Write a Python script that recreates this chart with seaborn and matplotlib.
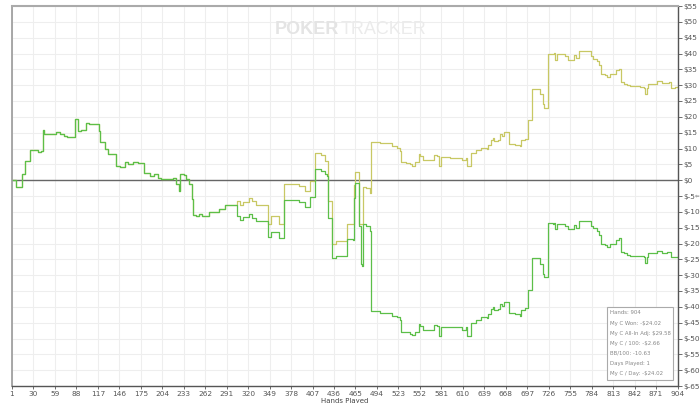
import numpy as np
import pandas as pd
import matplotlib
matplotlib.use("Agg")
import matplotlib.pyplot as plt
import seaborn as sns
from matplotlib.patches import Rectangle

# ---------------- data ----------------
hands = [1, 6, 15, 19, 26, 36, 41, 43, 45, 55, 61, 66, 72, 76, 86, 91, 95, 101, 106, 119,
         121, 127, 131, 142, 147, 154, 158, 165, 172, 180, 188, 194, 199, 203, 219, 224, 227, 229, 235, 237,
         241, 245, 247, 251, 255, 259, 268, 277, 282, 290,
         306, 310, 315, 323, 327, 332, 349, 353, 363, 370, 390, 398, 405, 412, 420, 426, 428, 430, 435, 440,
         456, 464, 465, 467, 472, 474, 476, 477, 481, 487,
         488, 500, 508, 517, 523, 528, 529, 535, 541, 544, 548, 553, 555, 559, 566, 573, 577, 580, 583, 595,
         611, 617, 619, 624, 631, 638, 645, 647, 651, 654, 655, 661, 663, 666, 668, 675, 683, 690, 692, 697,
         701, 706, 713, 717, 721, 722, 723, 728, 735, 737, 738, 740, 748, 751, 756, 761, 764, 766, 770, 785,
         786, 789, 795, 798, 800, 805, 809, 813, 818, 820, 824, 827, 828, 831, 836, 840, 849, 853, 858, 860,
         862, 864, 870, 876, 883, 890, 893, 895, 900, 904]

won = [0.0, -2.1, 1.9, 6.1, 9.5, 9.0, 9.3, 15.8, 14.5, 14.6, 15.3, 14.5, 13.9, 13.7, 19.2, 15.6, 15.8, 17.9, 17.7, 15.6,
       11.9, 9.8, 8.2, 4.5, 4.2, 5.6, 5.0, 5.6, 5.5, 2.4, 1.4, 2.1, 0.8, 0.3, 0.6, -1.3, -3.4, 1.9, 1.7, 0.3,
       -1.3, -6.0, -10.9, -11.2, -10.7, -11.3, -9.9, -10.2, -9.2, -7.8,
       -11.3, -12.6, -11.5, -10.7, -11.8, -12.8, -18.1, -16.5, -18.3, -6.3, -7.0, -8.4, -5.2, 3.5, 3.0, 2.0, 1.4, -11.8, -24.7, -23.9,
       -18.6, -19.0, -5.5, -1.0, -14.4, -26.5, -27.0, -13.9, -14.6, -16.0,
       -41.4, -41.9, -42.0, -42.8, -43.3, -44.3, -47.8, -48.1, -48.5, -49.0, -48.0, -45.4, -45.9, -47.3, -47.3, -45.6, -45.9, -49.1, -46.4, -46.5,
       -47.3, -46.5, -49.2, -45.0, -44.0, -43.3, -43.6, -42.4, -40.8, -40.2, -41.1, -40.8, -39.1, -39.8, -38.4, -42.1, -42.4, -42.9, -41.0, -40.5,
       -34.7, -24.7, -24.7, -26.5, -27.6, -29.6, -30.7, -13.6, -13.8, -13.4, -15.5, -13.8, -13.8, -14.4, -15.5, -15.5, -14.2, -15.0, -12.8, -12.8,
       -14.5, -15.2, -16.0, -17.3, -20.2, -20.5, -21.0, -20.0, -20.0, -18.9, -18.4, -18.7, -22.6, -23.1, -23.6, -23.9, -23.8, -24.1, -24.4, -26.3,
       -24.4, -23.1, -23.1, -22.3, -22.9, -22.8, -22.6, -24.4, -24.2, -24.02]

allin = [0.0, -2.1, 1.9, 6.1, 9.5, 9.0, 9.3, 15.8, 14.5, 14.6, 15.3, 14.5, 13.9, 13.7, 19.2, 15.6, 15.8, 17.9, 17.7, 15.6,
         11.9, 9.8, 8.2, 4.5, 4.2, 5.6, 5.0, 5.6, 5.5, 2.4, 1.4, 2.1, 0.8, 0.3, 0.6, -1.3, -3.4, 1.9, 1.7, 0.3,
         -1.3, -6.0, -10.9, -11.2, -10.7, -11.3, -9.9, -10.2, -9.2, -7.8,
         -6.5, -7.8, -7.0, -5.7, -6.5, -7.8, -13.7, -11.3, -13.7, -1.3, -1.8, -3.4, -0.2, 8.5, 8.0, 6.1, 6.1, -6.5, -20.0, -19.2,
         -13.7, -13.7, -1.5, 2.6, -13.9, -13.9, -13.9, -2.1, -2.5, -3.9,
         12.2, 11.7, 11.6, 10.8, 10.3, 9.3, 5.8, 5.5, 5.1, 4.6, 5.6, 8.2, 7.7, 6.3, 6.3, 8.0, 7.7, 4.5, 7.2, 7.1,
         6.3, 7.1, 4.4, 8.6, 9.6, 10.3, 10.0, 11.2, 12.8, 13.4, 12.5, 12.8, 14.5, 13.8, 15.2, 11.5, 11.2, 10.7, 12.6, 13.1,
         18.9, 28.9, 28.9, 27.1, 26.0, 24.0, 22.9, 40.0, 39.8, 40.2, 38.1, 39.8, 39.8, 39.2, 38.1, 38.1, 39.4, 38.6, 40.8, 40.8,
         39.1, 38.4, 37.6, 36.3, 33.4, 33.1, 32.6, 33.6, 33.6, 34.7, 35.2, 34.9, 31.0, 30.5, 30.0, 29.7, 29.8, 29.5, 29.2, 27.3,
         29.2, 30.5, 30.5, 31.3, 30.7, 30.8, 31.0, 29.2, 29.4, 29.58]

x_tick_labels = ["1", "30", "59", "88", "117", "146", "175", "204", "233", "262", "291", "320", "349", "378",
                 "407", "436", "465", "494", "523", "552", "581", "610", "639", "668", "697", "726", "755",
                 "784", "813", "842", "871", "904"]
y_ticks = list(range(-65, 56, 5))

stats_lines = ["Hands: 904", "My C Won: -\\$24.02", "My C All-In Adj: \\$29.58", "My C / 100: -\\$2.66",
               "BB/100: -10.63", "Days Played: 1", "My C / Day: -\\$24.02"]

WON = "My C Won"
ALLIN = "My C All-In Adj"

df = pd.DataFrame({
    "Hand": hands + hands,
    "Value": allin + won,
    "Series": [ALLIN] * len(hands) + [WON] * len(hands),
})

# ---------------- plot ----------------
sns.set_theme(style="white")
plt.rcParams['font.family'] = ['DejaVu Sans']

W, H = 700, 403
fig = plt.figure(figsize=(7, 4.03), dpi=100)
ax = fig.add_axes([12 / W, 17 / H, 665.5 / W, 380 / H])

sns.lineplot(data=df, x="Hand", y="Value", hue="Series", hue_order=[ALLIN, WON],
             palette={ALLIN: "#c8c864", WON: "#5cbf48"}, drawstyle="steps-post",
             linewidth=0.9, legend=False, estimator=None, sort=False, ax=ax)

ax.axhline(0, color="#666666", lw=1.0, zorder=1.5)

ax.set_xlim(1, 904)
ax.set_ylim(-65, 55)

ax.set_xticks(np.linspace(1, 904, len(x_tick_labels)))
ax.set_xticklabels(x_tick_labels)
ax.set_yticks(y_ticks)
ax.set_yticklabels(["\\$%d" % v for v in y_ticks])
ax.yaxis.tick_right()
ax.tick_params(axis="y", which="both", right=True, left=False, length=3, width=0.6,
               pad=1.5, labelsize=5.3, colors="#555555")
ax.tick_params(axis="x", which="both", bottom=True, length=2, width=0.6,
               pad=1.5, labelsize=5.3, colors="#555555")

ax.grid(True, color="#eeeeee", lw=0.8)
ax.set_axisbelow(True)

ax.spines["left"].set_color("#999999")
ax.spines["left"].set_linewidth(1.2)
ax.spines["right"].set_color("#555555")
ax.spines["right"].set_linewidth(1.0)
ax.spines["bottom"].set_color("#555555")
ax.spines["bottom"].set_linewidth(1.0)
ax.spines["top"].set_color("#aaaaaa")
ax.spines["top"].set_linewidth(1.5)

ax.set_xlabel("Hands Played", fontsize=5, color="#444444", labelpad=1)
ax.set_ylabel("")

# watermark
fig.text(339 / W, 1 - 30 / H, "POKER", fontsize=13, fontweight="bold", color="#e4e4e4",
         ha="right", va="center", family=["Liberation Sans Narrow", "Liberation Sans", "DejaVu Sans"])
fig.text(341 / W, 1 - 30 / H, "TRACKER", fontsize=13, color="#ebebeb",
         ha="left", va="center", family=["Liberation Sans Narrow", "Liberation Sans", "DejaVu Sans"])

# stats box
fig.patches.append(Rectangle((607 / W, 1 - 380 / H), 66 / W, 73 / H, transform=fig.transFigure,
                             facecolor="white", edgecolor="#aaaaaa", lw=0.8, zorder=5))
for i, line in enumerate(stats_lines):
    fig.text(610 / W, 1 - (313 + 10 * i) / H, line, fontsize=3.9, color="#888888",
             ha="left", va="center", zorder=6)

fig.text(697 / W, 1 - 196 / H, "\u21d0", fontsize=4, color="#777777", ha="center", va="center")

fig.savefig("out.png", dpi=100)
